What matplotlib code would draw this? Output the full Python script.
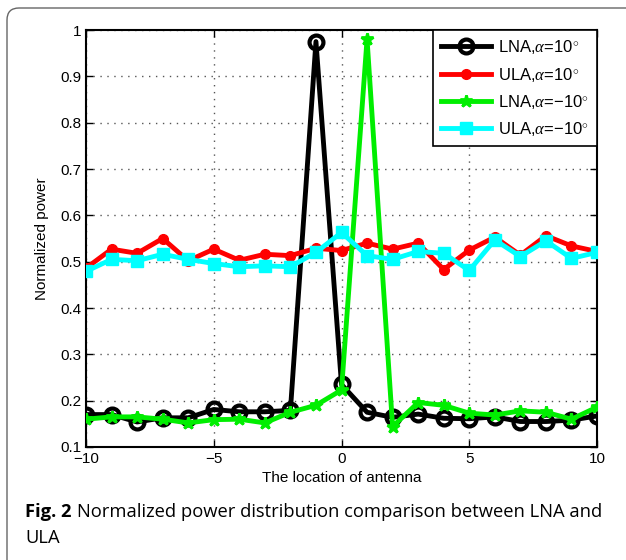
import matplotlib
matplotlib.use("Agg")
import matplotlib.pyplot as plt
from matplotlib.patches import FancyBboxPatch

x = list(range(-10, 11))
lna_p10 = [0.170, 0.170, 0.154, 0.163, 0.163, 0.181, 0.176, 0.176, 0.179, 0.975, 0.235,
           0.175, 0.164, 0.171, 0.162, 0.161, 0.165, 0.155, 0.155, 0.158, 0.167]
ula_p10 = [0.486, 0.527, 0.518, 0.550, 0.502, 0.527, 0.503, 0.516, 0.513, 0.529, 0.524,
           0.540, 0.527, 0.540, 0.483, 0.525, 0.553, 0.514, 0.556, 0.534, 0.522]
lna_m10 = [0.160, 0.165, 0.165, 0.160, 0.152, 0.159, 0.160, 0.152, 0.175, 0.190, 0.223,
           0.980, 0.144, 0.196, 0.190, 0.173, 0.169, 0.178, 0.175, 0.160, 0.186]
ula_m10 = [0.479, 0.505, 0.502, 0.516, 0.505, 0.496, 0.489, 0.491, 0.489, 0.520, 0.563,
           0.513, 0.505, 0.522, 0.518, 0.481, 0.547, 0.511, 0.545, 0.507, 0.520]
labels = [r'LNA,$\alpha$=10$^{\circ}$', r'ULA,$\alpha$=10$^{\circ}$',
          r'LNA,$\alpha$=$-$10$^{\circ}$', r'ULA,$\alpha$=$-$10$^{\circ}$']
xticks = [-10, -5, 0, 5, 10]
yticks = [0.1, 0.2, 0.3, 0.4, 0.5, 0.6, 0.7, 0.8, 0.9, 1.0]
ytick_labels = ['0.1', '0.2', '0.3', '0.4', '0.5', '0.6', '0.7', '0.8', '0.9', '1']

plt.rcParams['font.family'] = ['Liberation Sans', 'DejaVu Sans']
plt.rcParams['mathtext.fontset'] = 'custom'
plt.rcParams['mathtext.rm'] = 'Liberation Sans'
plt.rcParams['mathtext.it'] = 'Liberation Serif:italic'

W, H = 626, 560
fig = plt.figure(figsize=(W / 100, H / 100), dpi=100)

# outer rounded frame (display pixel coords)
frame = FancyBboxPatch((7 + 10, -40), 700, H - 8 - 10 + 40,
                       boxstyle="round,pad=10,rounding_size=12",
                       transform=None, fill=False, edgecolor='#666666', linewidth=1.0)
fig.patches.append(frame)

ax = fig.add_axes([86 / W, 1 - 447 / H, (597 - 86) / W, (447 - 30) / H])

lw = 3.5
ax.plot(x, lna_p10, color='black', lw=lw, marker='o', markersize=10,
        markerfacecolor='none', markeredgewidth=3, label=labels[0], zorder=3)
ax.plot(x, ula_p10, color='red', lw=lw, marker='o', markersize=7,
        markerfacecolor='red', markeredgewidth=1, label=labels[1], zorder=3)
ax.plot(x, lna_m10, color='#00ee00', lw=lw, marker='*', markersize=9,
        markeredgewidth=2, label=labels[2], zorder=4)
ax.plot(x, ula_m10, color='cyan', lw=lw, marker='s', markersize=9,
        markerfacecolor='cyan', markeredgewidth=1, label=labels[3], zorder=4)

ax.set_xlim(-10, 10)
ax.set_ylim(0.1, 1.0)
ax.set_xticks(xticks)
ax.set_xticklabels([str(t).replace('-', '\u2212') for t in xticks])
ax.set_yticks(yticks)
ax.set_yticklabels(ytick_labels)
ax.tick_params(direction='in', top=True, right=True, labelsize=11, length=5, width=1)
ax.grid(True, linestyle=(0, (1, 4)), color='#555555', linewidth=1)
for s in ax.spines.values():
    s.set_linewidth(1.5)

ax.set_xlabel('The location of antenna', fontsize=11, labelpad=4)
ax.set_ylabel('Normalized power', fontsize=11, labelpad=8)

leg = ax.legend(loc='upper right', fontsize=12, frameon=True, fancybox=False,
                edgecolor='black', framealpha=1, borderaxespad=0, handlelength=3,
                labelspacing=0.55, borderpad=0.5, handletextpad=0.4)
leg.get_frame().set_linewidth(1.2)

fs = 13.2
fig.text(25 / W, 1 - 517 / H, r'Fig. 2', fontsize=fs, fontweight='bold',
         family='Open Sans', ha='left', va='baseline')
fig.text(77 / W, 1 - 517 / H, 'Normalized power distribution comparison between LNA and',
         fontsize=fs, family='Open Sans', ha='left', va='baseline')
fig.text(25 / W, 1 - 543 / H, 'ULA', fontsize=fs, family='Open Sans', ha='left', va='baseline')

fig.savefig('out.png', dpi=100)
